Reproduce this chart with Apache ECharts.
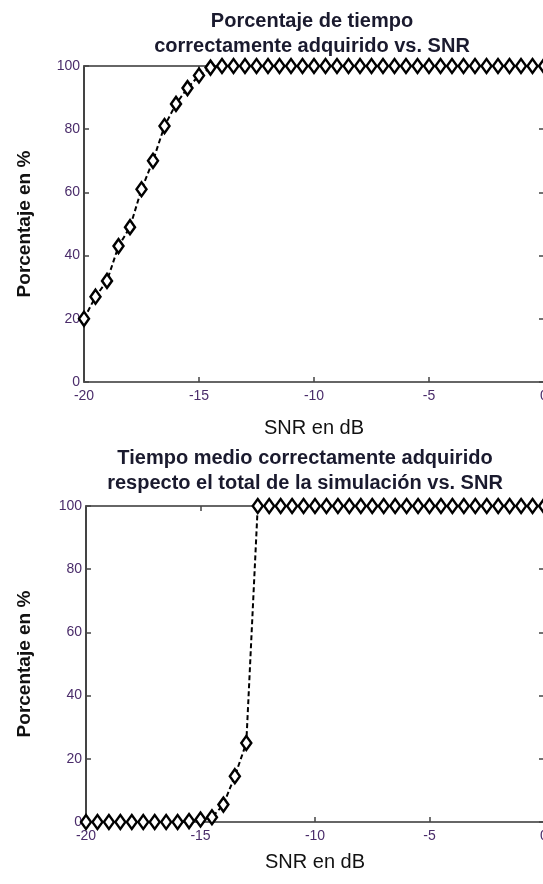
<!DOCTYPE html>
<html>
<head>
<meta charset="utf-8">
<script src="https://cdn.jsdelivr.net/npm/echarts@6/dist/echarts.min.js"></script>
<style>
html,body{margin:0;padding:0;background:#fff;}
#c{width:543px;height:884px;}
</style>
</head>
<body>
<div id="c"></div>
<script>
// ---- data ----
var snr = [-20,-19.5,-19,-18.5,-18,-17.5,-17,-16.5,-16,-15.5,-15,-14.5,-14,-13.5,-13,-12.5,-12,-11.5,-11,-10.5,-10,-9.5,-9,-8.5,-8,-7.5,-7,-6.5,-6,-5.5,-5,-4.5,-4,-3.5,-3,-2.5,-2,-1.5,-1,-0.5,0];
var pctTiempo = [20,27,32,43,49,61,70,81,88,93,97,99.5,100,100,100,100,100,100,100,100,100,100,100,100,100,100,100,100,100,100,100,100,100,100,100,100,100,100,100,100,100];
var pctMedio = [0,0,0,0,0,0,0,0,0,0.3,0.8,1.5,5.5,14.5,25,100,100,100,100,100,100,100,100,100,100,100,100,100,100,100,100,100,100,100,100,100,100,100,100,100,100];
var xTicks = [-20,-15,-10,-5,0];
var yTicks = [0,20,40,60,80,100];
var title1 = 'Porcentaje de tiempo\ncorrectamente adquirido vs. SNR';
var title2 = 'Tiempo medio correctamente adquirido\nrespecto el total de la simulación vs. SNR';
var xName = 'SNR en dB';
var yName = 'Porcentaje en %';

var FONT = '"Liberation Sans", Arial, sans-serif';
var LABEL_COLOR = '#4a2c6a';
function pairs(ys){ return snr.map(function(x,i){ return [x, ys[i]]; }); }

var chart = echarts.init(document.getElementById('c'), null, {renderer:'canvas'});

function xAxes(gi, gap){
  return [{
    type:'value', gridIndex:gi, min:xTicks[0], max:xTicks[xTicks.length-1], interval:5,
    name:xName, nameLocation:'middle', nameGap:gap,
    nameTextStyle:{color:'#111', fontSize:20, fontFamily:FONT},
    axisLine:{show:true, onZero:false, lineStyle:{color:'#666', width:2}},
    axisTick:{show:true, inside:true, length:5, lineStyle:{color:'#444', width:1.5}},
    axisLabel:{color:LABEL_COLOR, fontSize:14, fontFamily:FONT, margin:7},
    splitLine:{show:false}
  },{
    type:'value', gridIndex:gi, position:'top', min:xTicks[0], max:xTicks[xTicks.length-1], interval:5,
    axisLine:{show:true, onZero:false, lineStyle:{color:'#666', width:2}},
    axisTick:{show:true, inside:true, length:5, lineStyle:{color:'#444', width:1.5}},
    axisLabel:{show:false}, splitLine:{show:false}
  }];
}
function yAxes(gi, gap){
  return [{
    type:'value', gridIndex:gi, min:yTicks[0], max:yTicks[yTicks.length-1], interval:20,
    name:yName, nameLocation:'middle', nameGap:gap, nameRotate:90,
    nameTextStyle:{color:'#111', fontSize:19, fontWeight:'bold', fontFamily:FONT},
    axisLine:{show:true, onZero:false, lineStyle:{color:'#444', width:2}},
    axisTick:{show:true, inside:true, length:5, lineStyle:{color:'#444', width:1.5}},
    axisLabel:{color:LABEL_COLOR, fontSize:14, fontFamily:FONT, margin:4},
    splitLine:{show:false}
  },{
    type:'value', gridIndex:gi, position:'right', min:yTicks[0], max:yTicks[yTicks.length-1], interval:20,
    axisLine:{show:true, onZero:false, lineStyle:{color:'#666', width:2}},
    axisTick:{show:true, inside:true, length:5, lineStyle:{color:'#444', width:1.5}},
    axisLabel:{show:false}, splitLine:{show:false}
  }];
}
function series(xi, yi, data){
  return {
    type:'line', xAxisIndex:xi, yAxisIndex:yi, data:pairs(data),
    symbol:'diamond', symbolSize:[10,14], showAllSymbol:true, clip:false,
    lineStyle:{color:'#000', width:2, type:[5,3]},
    itemStyle:{color:'#fff', borderColor:'#000', borderWidth:2.5},
    animation:false
  };
}

chart.setOption({
  animation:false,
  backgroundColor:'#fff',
  title:[
    {text:title1, left:307, top:4, textAlign:'center',
     textStyle:{color:'#1a1a2e', fontSize:20, fontWeight:'bold', fontFamily:FONT, lineHeight:25}},
    {text:title2, left:300, top:441, textAlign:'center',
     textStyle:{color:'#1a1a2e', fontSize:20, fontWeight:'bold', fontFamily:FONT, lineHeight:25}}
  ],
  grid:[
    {left:84, top:66, width:460, height:316, containLabel:false, outerBoundsMode:'none'},
    {left:86, top:506, width:458, height:316, containLabel:false, outerBoundsMode:'none'}
  ],
  xAxis: xAxes(0, 36).concat(xAxes(1, 30)),
  yAxis: yAxes(0, 50).concat(yAxes(1, 52)),
  series:[
    series(0, 0, pctTiempo),
    series(2, 2, pctMedio)
  ]
});
</script>
</body>
</html>
